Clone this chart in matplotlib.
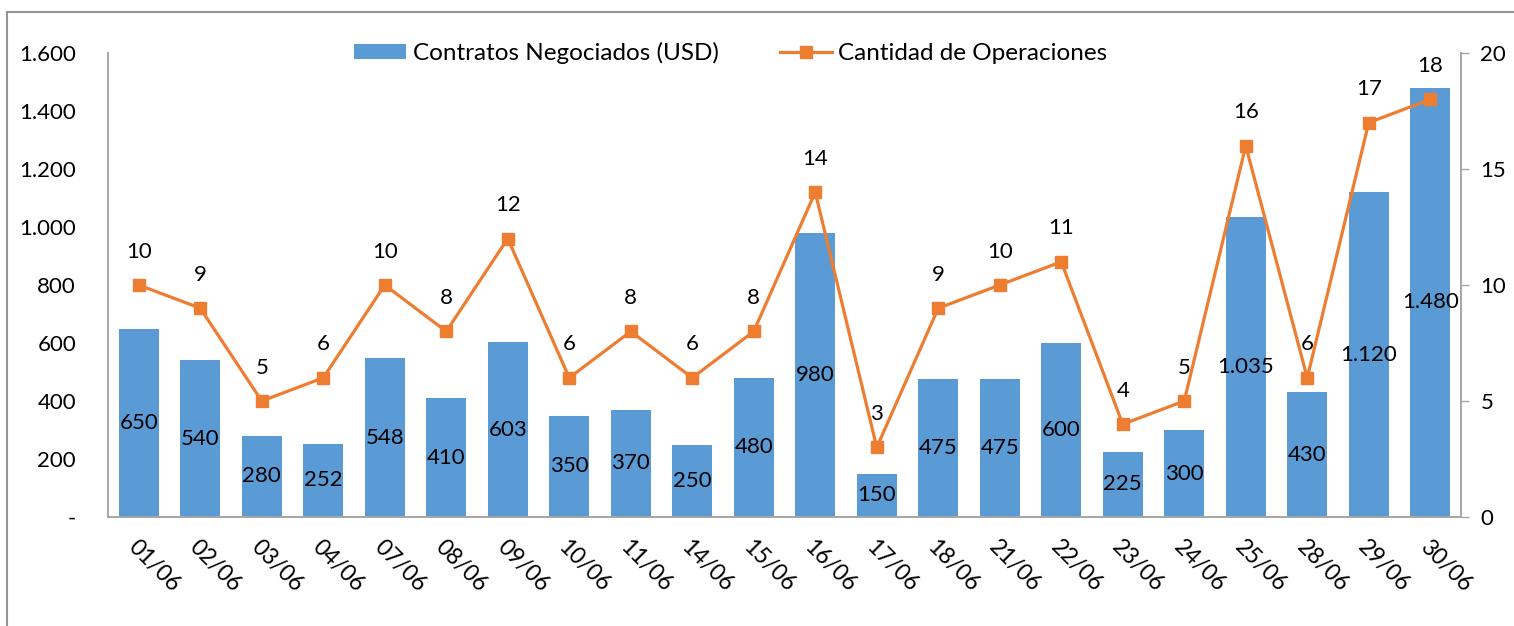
import matplotlib
matplotlib.use("Agg")
import matplotlib.pyplot as plt
from matplotlib.patches import Rectangle
from matplotlib.ticker import FuncFormatter, MultipleLocator
import numpy as np

plt.rcParams['font.family'] = ['Lato', 'DejaVu Sans']

dates = ["01/06", "02/06", "03/06", "04/06", "07/06", "08/06", "09/06", "10/06",
         "11/06", "14/06", "15/06", "16/06", "17/06", "18/06", "21/06", "22/06",
         "23/06", "24/06", "25/06", "28/06", "29/06", "30/06"]
contratos = [650, 540, 280, 252, 548, 410, 603, 350, 370, 250, 480, 980, 150, 475,
             475, 600, 225, 300, 1035, 430, 1120, 1480]
operaciones = [10, 9, 5, 6, 10, 8, 12, 6, 8, 6, 8, 14, 3, 9, 10, 11, 4, 5, 16, 6, 17, 18]

BLUE = "#5B9BD5"
ORANGE = "#ED7D31"
GRID = "#A6A6A6"
FS = 16
LFS = 17.5

def fmt_thousands(v):
    if v == 0:
        return "-"
    return f"{int(round(v)):,}".replace(",", ".")

fig = plt.figure(figsize=(15.14, 6.26), dpi=100)
ax = fig.add_axes([108/1514, 1-517/626, (1461-108)/1514, (517-53)/626])
ax2 = ax.twinx()

x = np.arange(len(dates))
bars = ax.bar(x, contratos, width=0.65, color=BLUE, label="Contratos Negociados (USD)", zorder=2)
ax.set_xlim(-0.5, len(dates) - 0.5)
ax.set_ylim(0, 1600)
ax.yaxis.set_major_locator(MultipleLocator(200))
ax.yaxis.set_major_formatter(FuncFormatter(lambda v, p: fmt_thousands(v)))
ax.tick_params(axis='y', length=0, pad=23, labelsize=FS)
ax.set_xticks(x)
ax.set_xticklabels(dates, rotation=-45, ha='left', va='top', rotation_mode='anchor', fontsize=FS + 0.5)
ax.tick_params(axis='x', length=0, pad=14)

for xi, v in zip(x, contratos):
    ax.text(xi, v / 2, fmt_thousands(v), ha='center', va='center', fontsize=FS, zorder=5)

line, = ax2.plot(x, operaciones, color=ORANGE, lw=2.3, marker='s', markersize=9,
                 label="Cantidad de Operaciones", zorder=3)
ax2.set_ylim(0, 20)
ax2.yaxis.set_major_locator(MultipleLocator(5))
ax2.tick_params(axis='y', length=6, width=1, color=GRID, pad=8, labelsize=FS, direction='out')
for xi, v in zip(x, operaciones):
    ax2.annotate(str(v), (xi, v), xytext=(0, 24), textcoords='offset points',
                 ha='center', va='center', fontsize=FS)

for a in (ax, ax2):
    a.spines['top'].set_visible(False)
    for s in ('left', 'right', 'bottom'):
        a.spines[s].set_color(GRID)
        a.spines[s].set_linewidth(1.2)

leg = fig.legend([bars, line], ["Contratos Negociados (USD)", "Cantidad de Operaciones"],
                 loc='center', bbox_to_anchor=(731/1514, 1-53/626), ncol=2, frameon=False,
                 fontsize=LFS, handlelength=2.14, handleheight=0.55, handletextpad=0.25,
                 columnspacing=2.55)

fig.patches.append(Rectangle((7/1514, -0.2), 1.5, 1.2 - 12/626, transform=fig.transFigure,
                             fill=False, edgecolor="#969696", lw=1.5))

fig.savefig("out.png", dpi=100)
